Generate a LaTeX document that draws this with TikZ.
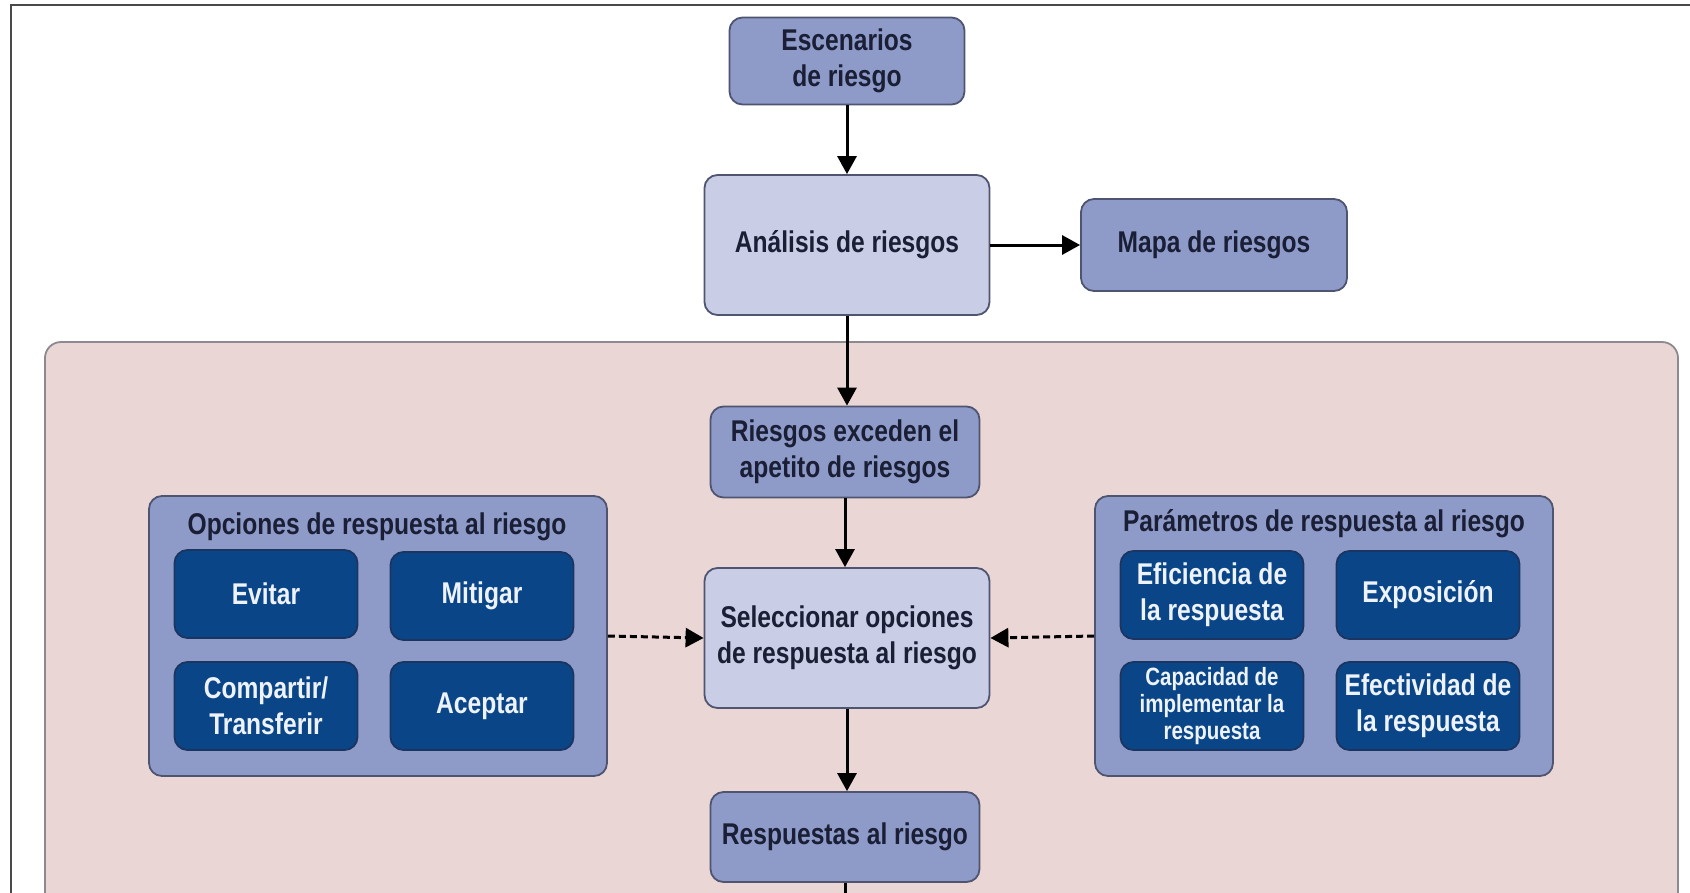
\documentclass[tikz,border=0pt]{standalone}
\usepackage{fontspec}
\setmainfont{Liberation Sans}[FakeStretch=0.82]
\usetikzlibrary{arrows.meta}

\definecolor{boxmid}{HTML}{8E9BC9}
\definecolor{boxlight}{HTML}{C9CEE6}
\definecolor{navyfill}{HTML}{0A4687}
\definecolor{navyedge}{HTML}{1B3560}
\definecolor{edgegrey}{HTML}{4F5571}
\definecolor{inkdark}{HTML}{1A1F36}
\definecolor{inklight}{HTML}{EEF2FA}
\definecolor{panelpink}{HTML}{EAD6D4}
\definecolor{paneledge}{HTML}{8C8A90}
\definecolor{framegrey}{HTML}{4A4A4A}

\begin{document}
\begin{tikzpicture}[x=1pt,y=-1pt,
  base/.style={rounded corners=13pt, draw=edgegrey, line width=1.8pt,
    align=center, inner sep=0pt,
    font=\bfseries\fontsize{30}{36}\selectfont},
  midbox/.style={base, fill=boxmid, text=inkdark},
  lightbox/.style={base, fill=boxlight, text=inkdark},
  navybox/.style={base, fill=navyfill, draw=navyedge, text=inklight,
    minimum width=183pt, minimum height=88pt},
  groupbox/.style={base, fill=boxmid, minimum width=458pt, minimum height=280pt},
  grouptitle/.style={font=\bfseries\fontsize{30}{34}\selectfont, text=inkdark, inner sep=0pt},
  flow/.style={-{Triangle[length=18pt,width=19pt]}, line width=3pt, black},
  dashflow/.style={flow, dash pattern=on 7pt off 4pt}
]
\useasboundingbox (0,0) rectangle (1690,892);
\clip (0,0) rectangle (1690,892);
\fill[white] (0,0) rectangle (1690,892);

% page frame
\draw[line width=2.5pt, framegrey] (11,900) -- (11,5) -- (1700,5);

% response panel
\draw[fill=panelpink, draw=paneledge, line width=1.8pt, rounded corners=16pt]
  (45,342) rectangle (1678,960);

% main column
\node[midbox, minimum width=235pt, minimum height=87pt] (esc) at (847,61) {Escenarios\\de riesgo};
\node[lightbox, minimum width=285pt, minimum height=140pt] (ana) at (847,245) {Análisis de riesgos};
\node[midbox, minimum width=266pt, minimum height=92pt] (mapa) at (1214,245) {Mapa de riesgos};
\node[midbox, minimum width=269pt, minimum height=91pt] (exc) at (845,452) {Riesgos exceden el\\apetito de riesgos};
\node[lightbox, minimum width=285pt, minimum height=140pt] (sel) at (847,638) {Seleccionar opciones\\de respuesta al riesgo};
\node[midbox, minimum width=269pt, minimum height=90pt] (resp) at (845,837) {Respuestas al riesgo};
\coordinate (down) at (845,900);

% response options group
\node[groupbox] (opc) at (378,636) {};
\node[grouptitle] (opct) at (377,527) {Opciones de respuesta al riesgo};
\node[navybox] (evi) at (266,594) {Evitar};
\node[navybox] (mit) at (482,596) {Mitigar};
\node[navybox] (com) at (266,706) {Compartir/\\Transferir};
\node[navybox] (ace) at (482,706) {Aceptar};

% response parameters group
\node[groupbox] (par) at (1324,636) {};
\node[grouptitle] (part) at (1324,524) {Parámetros de respuesta al riesgo};
\node[navybox] (efi) at (1212,595) {Eficiencia de\\la respuesta};
\node[navybox] (exp) at (1428,595) {Exposición};
\node[navybox, font=\bfseries\fontsize{25}{27}\selectfont] (cap) at (1212,706) {Capacidad de\\implementar la\\respuesta};
\node[navybox] (efe) at (1428,706) {Efectividad de\\la respuesta};

% connectors
\draw[flow] (esc) -- (ana);
\draw[flow] (ana) -- (mapa);
\draw[flow] (ana.south) -- (ana.south |- exc.north);
\draw[flow] (exc.south) -- (exc.south |- sel.north);
\draw[flow] (sel.south) -- (sel.south |- resp.north);
\draw[line width=3pt] (resp.south) -- (down);
\draw[dashflow] (opc.east) -- (sel.west);
\draw[dashflow] (par.west) -- (sel.east);
\end{tikzpicture}
\end{document}
